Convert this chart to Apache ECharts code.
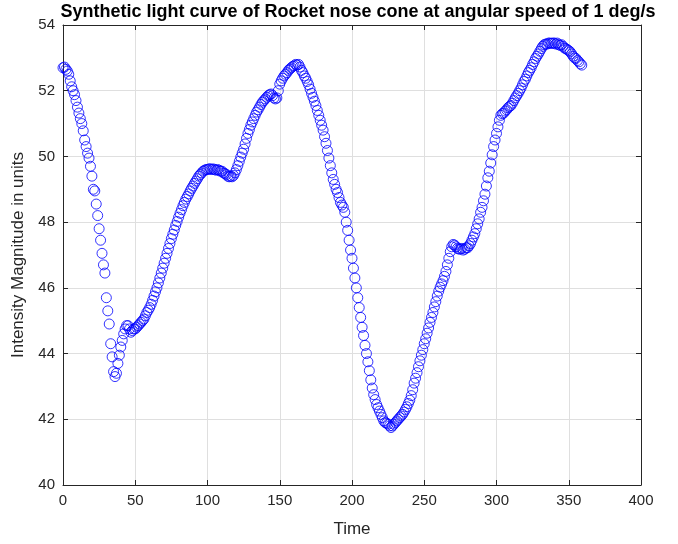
<!DOCTYPE html>
<html>
<head>
<meta charset="utf-8">
<script src="https://cdn.jsdelivr.net/npm/echarts@6/dist/echarts.min.js"></script>
<style>
  html, body { margin: 0; padding: 0; background: #fff; }
  #chart { width: 678px; height: 544px; }
</style>
</head>
<body>
<div id="chart"></div>
<script>
// angle in degrees (one sample per degree)
var startTime = 0;
// intensity magnitude per degree, t = 0..359
var intensity = [
  52.70, 52.72, 52.65, 52.60, 52.50, 52.30, 52.12, 52.00, 51.88, 51.70,
  51.50, 51.32, 51.15, 51.00, 50.78, 50.50, 50.30, 50.10, 49.95, 49.70,
  49.40, 49.00, 48.95, 48.55, 48.20, 47.80, 47.45, 47.05, 46.70, 46.45,
  45.70, 45.30, 44.90, 44.30, 43.90, 43.45, 43.30, 43.40, 43.70, 43.95,
  44.20, 44.40, 44.60, 44.75, 44.85, 44.85, 44.75, 44.65, 44.70, 44.75,
  44.75, 44.80, 44.85, 44.90, 44.95, 45.00, 45.05, 45.15, 45.25, 45.32,
  45.40, 45.50, 45.62, 45.75, 45.88, 46.00, 46.15, 46.30, 46.45, 46.60,
  46.75, 46.90, 47.05, 47.20, 47.35, 47.50, 47.63, 47.76, 47.90, 48.02,
  48.15, 48.27, 48.38, 48.50, 48.60, 48.70, 48.78, 48.86, 48.95, 49.03,
  49.10, 49.18, 49.25, 49.32, 49.40, 49.45, 49.50, 49.55, 49.58, 49.60,
  49.60, 49.62, 49.62, 49.60, 49.62, 49.60, 49.58, 49.60, 49.58, 49.55,
  49.55, 49.50, 49.48, 49.45, 49.40, 49.38, 49.40, 49.38, 49.42, 49.50,
  49.60, 49.72, 49.85, 49.98, 50.10, 50.22, 50.38, 50.55, 50.70, 50.82,
  50.95, 51.05, 51.15, 51.25, 51.35, 51.42, 51.50, 51.58, 51.65, 51.70,
  51.75, 51.80, 51.85, 51.88, 51.90, 51.85, 51.78, 51.75, 51.78, 52.00,
  52.20, 52.30, 52.38, 52.45, 52.50, 52.55, 52.62, 52.66, 52.70, 52.74,
  52.76, 52.80, 52.78, 52.80, 52.72, 52.62, 52.55, 52.45, 52.38, 52.28,
  52.18, 52.05, 51.92, 51.80, 51.68, 51.55, 51.40, 51.25, 51.10, 50.95,
  50.80, 50.60, 50.40, 50.18, 49.95, 49.72, 49.50, 49.30, 49.15, 49.00,
  48.90, 48.75, 48.60, 48.52, 48.45, 48.30, 48.00, 47.75, 47.45, 47.15,
  46.90, 46.60, 46.30, 46.00, 45.70, 45.40, 45.10, 44.80, 44.55, 44.25,
  44.00, 43.75, 43.48, 43.20, 42.95, 42.75, 42.60, 42.45, 42.35, 42.25,
  42.15, 42.05, 41.95, 41.90, 41.88, 41.85, 41.80, 41.75, 41.80, 41.85,
  41.90, 41.95, 42.00, 42.05, 42.10, 42.15, 42.22, 42.30, 42.38, 42.48,
  42.58, 42.72, 42.90, 43.10, 43.25, 43.42, 43.60, 43.78, 43.95, 44.12,
  44.30, 44.45, 44.62, 44.78, 44.95, 45.10, 45.25, 45.42, 45.58, 45.75,
  45.90, 46.02, 46.12, 46.22, 46.35, 46.50, 46.70, 46.90, 47.10, 47.25,
  47.32, 47.30, 47.25, 47.20, 47.18, 47.18, 47.20, 47.15, 47.18, 47.22,
  47.22, 47.28, 47.35, 47.45, 47.55, 47.65, 47.80, 47.95, 48.10, 48.30,
  48.45, 48.65, 48.85, 49.10, 49.35, 49.55, 49.80, 50.05, 50.30, 50.50,
  50.70, 50.90, 51.10, 51.25, 51.30, 51.32, 51.38, 51.42, 51.48, 51.52,
  51.55, 51.62, 51.70, 51.78, 51.85, 51.92, 52.00, 52.08, 52.18, 52.28,
  52.35, 52.45, 52.55, 52.62, 52.70, 52.80, 52.88, 52.98, 53.05, 53.12,
  53.20, 53.28, 53.35, 53.40, 53.42, 53.42, 53.45, 53.45, 53.44, 53.45,
  53.45, 53.42, 53.45, 53.40, 53.38, 53.40, 53.35, 53.30, 53.28, 53.25,
  53.22, 53.18, 53.12, 53.05, 53.00, 52.98, 52.92, 52.88, 52.82, 52.78
];
var xTicks = [0, 50, 100, 150, 200, 250, 300, 350, 400];
var yTicks = [40, 42, 44, 46, 48, 50, 52, 54];

var points = intensity.map(function (v, i) { return [startTime + i, v]; });

var chart = echarts.init(document.getElementById('chart'));
var axisColor = '#262626';
var font = 'Liberation Sans, Arial, Helvetica, sans-serif';

function boxAxis(extra) {
  return Object.assign({
    type: 'value',
    axisLine: { show: true, onZero: false, lineStyle: { color: axisColor, width: 1 } },
    axisTick: { show: true, inside: true, length: 5, lineStyle: { color: axisColor } },
    splitLine: { show: false },
    axisLabel: { show: false }
  }, extra);
}

var option = {
  animation: false,
  backgroundColor: '#ffffff',
  title: {
    text: 'Synthetic light curve of Rocket nose cone at angular speed of 1 deg/s',
    left: 353,
    textAlign: 'center',
    top: -2,
    textStyle: { fontFamily: font, fontSize: 18, fontWeight: 'bold', color: '#000' }
  },
  grid: { left: 63, top: 25, width: 578, height: 460 },
  xAxis: [
    {
      type: 'value', min: 0, max: 400, interval: 50,
      name: 'Time', nameLocation: 'middle', nameGap: 36,
      nameTextStyle: { fontFamily: font, fontSize: 17, color: axisColor },
      axisLine: { show: true, onZero: false, lineStyle: { color: axisColor } },
      axisTick: { show: true, inside: true, length: 5, lineStyle: { color: axisColor } },
      axisLabel: { fontFamily: font, fontSize: 15, color: axisColor, margin: 8,
        formatter: function (v) { return xTicks.indexOf(v) >= 0 ? String(v) : ''; } },
      splitLine: { show: true, lineStyle: { color: '#dfdfdf', width: 1 } }
    },
    boxAxis({ position: 'top', min: 0, max: 400, interval: 50 })
  ],
  yAxis: [
    {
      type: 'value', min: 40, max: 54, interval: 2,
      name: 'Intensity Magnitude in units', nameLocation: 'middle', nameGap: 36,
      nameTextStyle: { fontFamily: font, fontSize: 17, color: axisColor },
      axisLine: { show: true, onZero: false, lineStyle: { color: axisColor } },
      axisTick: { show: true, inside: true, length: 5, lineStyle: { color: axisColor } },
      axisLabel: { fontFamily: font, fontSize: 15, color: axisColor, margin: 8,
        formatter: function (v) { return yTicks.indexOf(v) >= 0 ? String(v) : ''; } },
      splitLine: { show: true, lineStyle: { color: '#dfdfdf', width: 1 } }
    },
    boxAxis({ position: 'right', min: 40, max: 54, interval: 2 })
  ],
  series: [
    {
      type: 'scatter',
      data: points,
      symbol: 'circle',
      symbolSize: 10,
      itemStyle: { color: 'rgba(0,0,0,0)', borderColor: '#0000ff', borderWidth: 1 },
      silent: true
    }
  ]
};

chart.setOption(option);
</script>
</body>
</html>
